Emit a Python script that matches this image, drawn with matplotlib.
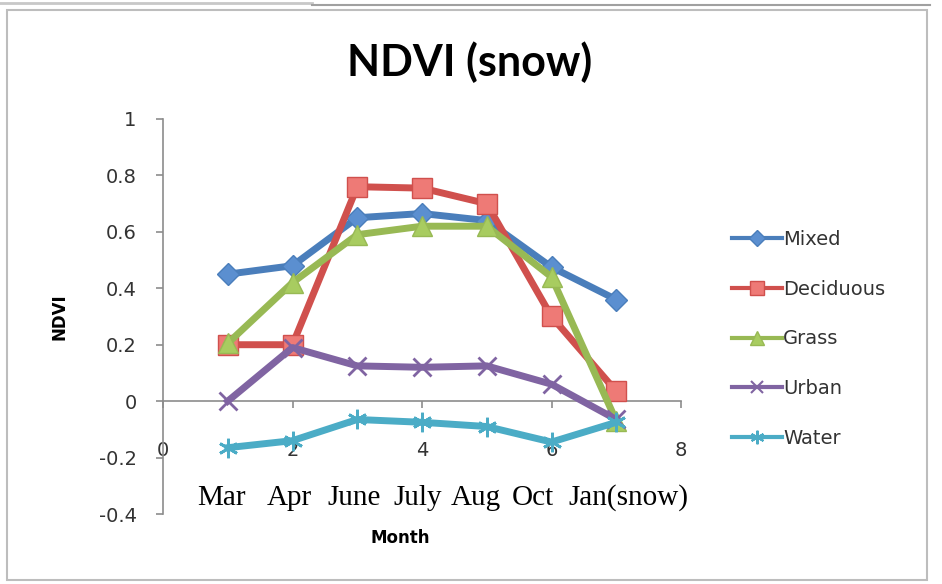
import numpy as np
import matplotlib.pyplot as plt
from matplotlib.patches import Rectangle
from matplotlib.lines import Line2D

# series values, x = 1..7 (Mar .. Jan(snow))
x = [1, 2, 3, 4, 5, 6, 7]
mixed = [0.45, 0.48, 0.65, 0.665, 0.64, 0.475, 0.36]
deciduous = [0.20, 0.20, 0.76, 0.755, 0.70, 0.30, 0.035]
grass = [0.205, 0.42, 0.59, 0.62, 0.62, 0.44, -0.07]
urban = [0.0, 0.19, 0.125, 0.12, 0.125, 0.06, -0.065]
water = [-0.165, -0.14, -0.065, -0.075, -0.09, -0.145, -0.075]

months = ['Mar', 'Apr', 'June', 'July', 'Aug', 'Oct', 'Jan(snow)']
# left edge of each month label (pixels), as typed in the original text box
month_px = [197, 267, 327, 393, 451, 512, 568]

W, H = 942, 584
fig = plt.figure(figsize=(W / 100, H / 100), dpi=100)
ax = fig.add_axes([163 / W, 1 - 514 / H, (681 - 163) / W, (514 - 119) / H])

series = [
    ('Mixed', mixed, '#4A7EBB', '#5B8FD0', 'D', 11),
    ('Deciduous', deciduous, '#D0504D', '#EE7A76', 's', 15),
    ('Grass', grass, '#98B954', '#A8CC60', '^', 14),
    ('Urban', urban, '#8064A2', '#8064A2', 'x', 13),
    ('Water', water, '#4BACC6', '#4BACC6', (6, 2, 0), 14),
]

handles = []
for name, vals, col, face, mk, ms in series:
    ax.plot(x, vals, color=col, lw=5, marker=mk, ms=ms, mfc=face,
            mec=col, mew=2 if mk in ('x', (6, 2, 0)) else 1, zorder=3)
    handles.append(Line2D([], [], color=col, lw=3, marker=mk, ms=ms * 0.7,
                          mfc=face, mec=col,
                          mew=1.5 if mk in ('x', (6, 2, 0)) else 1))

ax.set_xlim(0, 8)
ax.set_ylim(-0.4, 1)
ax.set_xticks([0, 2, 4, 6, 8])
ax.set_yticks([-0.4, -0.2, 0, 0.2, 0.4, 0.6, 0.8, 1])
ax.set_yticklabels(['-0.4', '-0.2', '0', '0.2', '0.4', '0.6', '0.8', '1'])

for s in ['top', 'right']:
    ax.spines[s].set_visible(False)
ax.spines['bottom'].set_position(('data', 0))
for s in ['left', 'bottom']:
    ax.spines[s].set_color('#8C8C8C')
    ax.spines[s].set_linewidth(1.2)
ax.tick_params(axis='both', colors='#8C8C8C', labelcolor='#333333',
               labelsize=14, length=5, width=1.2, direction='out')
ax.tick_params(axis='x', pad=24)
ax.tick_params(axis='y', pad=14)
ax.patch.set_alpha(0)

fig.text(470 / W, 1 - 62 / H, 'NDVI (snow)', ha='center', va='center',
         family='Lato', fontweight='bold', fontsize=31)
fig.text(60 / W, 1 - 317 / H, 'NDVI', ha='center', va='center',
         rotation=90, fontweight='bold', fontsize=12)
fig.text(400 / W, 1 - 538 / H, 'Month', ha='center', va='center',
         fontweight='bold', fontsize=12)

for lab, px in zip(months, month_px):
    fig.text(px / W, 1 - 505 / H, lab, ha='left', va='baseline',
             family='Liberation Serif', fontsize=21, color='#000000')

fig.legend(handles, [s[0] for s in series], loc='center left',
           bbox_to_anchor=(722 / W, 1 - 339 / H), frameon=False,
           fontsize=14, labelspacing=1.58, handlelength=2.6,
           handletextpad=0.05, borderpad=0, labelcolor='#333333')

# chart border like the spreadsheet chart object
fig.add_artist(Rectangle((7 / W, 1 - 580 / H), 920 / W, 570 / H,
                         transform=fig.transFigure, fill=False,
                         ec='#BDBDBD', lw=1.5))
fig.add_artist(Line2D([0, 312 / W], [1 - 3 / H, 1 - 3 / H],
                      transform=fig.transFigure, color='#C8C8C8', lw=2))
fig.add_artist(Line2D([312 / W, 930 / W], [1 - 5 / H, 1 - 5 / H],
                      transform=fig.transFigure, color='#A0A0A0', lw=1.5))

fig.savefig('out.png', dpi=100)
